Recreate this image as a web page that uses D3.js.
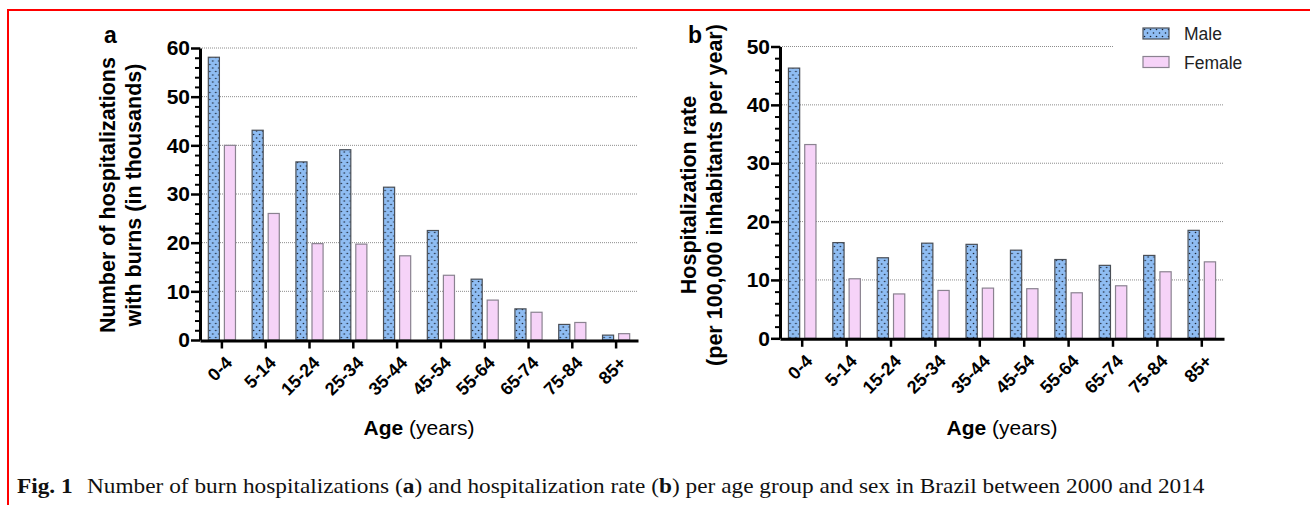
<!DOCTYPE html>
<html>
<head>
<meta charset="utf-8">
<script src="https://cdn.jsdelivr.net/npm/d3@7"></script>
<style>
  body { margin: 0; background: #fff; }
  svg { display: block; font-family: "Liberation Sans", Arial, sans-serif; }
</style>
</head>
<body>
<svg id="chart" width="1310" height="505"></svg>
<script>
// age groups + values
var ageGroups = ["0-4", "5-14", "15-24", "25-34", "35-44", "45-54", "55-64", "65-74", "75-84", "85+"];
var sexes = ["Male", "Female"];

// panel a: hospitalizations (thousands)
var countMale   = [58.1, 43.1, 36.6, 39.1, 31.4, 22.5, 12.5, 6.4, 3.2, 1.0];
var countFemale = [40.0, 26.0, 19.8, 19.7, 17.3, 13.3, 8.2, 5.7, 3.6, 1.3];

// panel b: rate per 100,000 inhabitants per year
var rateMale   = [46.3, 16.4, 13.8, 16.3, 16.1, 15.1, 13.5, 12.5, 14.2, 18.5];
var rateFemale = [33.2, 10.2, 7.6, 8.2, 8.6, 8.5, 7.8, 9.0, 11.4, 13.1];

var countTicks = [0, 10, 20, 30, 40, 50, 60];
var rateTicks = [0, 10, 20, 30, 40, 50];

var svg = d3.select("#chart");

// dotted fill for the male bars
var defs = svg.append("defs");
var pat = defs.append("pattern")
    .attr("id", "dots")
    .attr("patternUnits", "userSpaceOnUse")
    .attr("width", 6)
    .attr("height", 7);
pat.append("rect").attr("width", 6).attr("height", 7).attr("fill", "#8fbdf3");
pat.append("circle").attr("cx", 1.5).attr("cy", 1.5).attr("r", 0.8).attr("fill", "#1a2230");
pat.append("circle").attr("cx", 4.5).attr("cy", 5).attr("r", 0.8).attr("fill", "#1a2230");

var colors = { Male: "url(#dots)", Female: "#f6d3f8" };
var strokes = { Male: "#4a4f57", Female: "#8a8290" };

// red frame
svg.append("rect")
    .attr("x", 8).attr("y", 10)
    .attr("width", 1320).attr("height", 520)
    .attr("fill", "none")
    .attr("stroke", "#ff0000")
    .attr("stroke-width", 2);

function drawPanel(opts) {
    var g = svg.append("g");

    var x0 = d3.scaleBand()
        .domain(ageGroups)
        .range([opts.left, opts.right])
        .paddingInner(0.38)
        .paddingOuter(0.19);

    var x1 = d3.scaleBand()
        .domain(sexes)
        .range([0, x0.bandwidth()])
        .paddingInner(0.31);

    var y = d3.scaleLinear()
        .domain([0, opts.max])
        .range([opts.bottom, opts.top]);

    // dotted grid
    g.selectAll(".grid")
        .data(opts.ticks.filter(d => d > 0))
        .enter()
        .append("line")
            .attr("x1", opts.left)
            .attr("x2", d => (d === opts.max && opts.topGridEnd) ? opts.topGridEnd : opts.right)
            .attr("y1", d => y(d))
            .attr("y2", d => y(d))
            .attr("stroke", "#8c8c8c")
            .attr("stroke-width", 1)
            .attr("stroke-dasharray", "1,1");

    // bars
    var rows = ageGroups.map((a, i) => ({ age: a, Male: opts.male[i], Female: opts.female[i] }));
    var groups = g.selectAll(".grp")
        .data(rows)
        .enter()
        .append("g")
            .attr("transform", d => "translate(" + x0(d.age) + ",0)");

    groups.selectAll("rect")
        .data(d => sexes.map(s => ({ sex: s, value: d[s] })))
        .enter()
        .append("rect")
            .attr("x", d => x1(d.sex))
            .attr("width", x1.bandwidth())
            .attr("y", d => y(d.value))
            .attr("height", d => y(0) - y(d.value))
            .attr("fill", d => colors[d.sex])
            .attr("stroke", d => strokes[d.sex])
            .attr("stroke-width", 1.2);

    // minor ticks every 2
    var minors = d3.range(0, opts.max + 0.1, 2).filter(v => v % 10 !== 0);
    var minorAxis = g.append("g")
        .attr("transform", "translate(" + opts.left + ",0)")
        .call(d3.axisLeft(y).tickValues(minors).tickSize(5).tickFormat(""));
    minorAxis.select(".domain").remove();
    minorAxis.selectAll("line").attr("stroke-width", 2);

    // y axis
    var yAxis = g.append("g")
        .attr("transform", "translate(" + opts.left + ",0)")
        .call(d3.axisLeft(y).tickValues(opts.ticks).tickSize(9).tickSizeOuter(0).tickPadding(1));
    yAxis.select(".domain").attr("stroke-width", 3);
    yAxis.selectAll(".tick line").attr("stroke-width", 2.5);
    yAxis.selectAll("text")
        .style("font-size", "21px")
        .style("font-weight", "bold")
        .style("font-family", "'Liberation Sans', Arial, sans-serif")
        .attr("fill", "#000");

    // x axis
    var xAxis = g.append("g")
        .attr("transform", "translate(0," + (opts.bottom + 0.5) + ")")
        .call(d3.axisBottom(x0).tickSize(8).tickSizeOuter(0));
    xAxis.select(".domain").attr("stroke-width", 3);
    xAxis.selectAll(".tick line").attr("stroke-width", 2.5);
    xAxis.selectAll("text")
        .style("font-size", "18px")
        .style("font-weight", "bold")
        .style("font-family", "'Liberation Sans', Arial, sans-serif")
        .attr("fill", "#000")
        .attr("text-anchor", "end")
        .attr("x", 7)
        .attr("y", 19)
        .attr("dy", "0.35em")
        .attr("transform", "rotate(-45, 7, 19)");

    // y title, two lines
    var yt = g.append("text")
        .attr("transform", "translate(" + opts.titleX + "," + opts.titleY + ") rotate(-90)")
        .attr("text-anchor", "middle")
        .style("font-size", "21.5px")
        .style("font-weight", "bold");
    yt.append("tspan").attr("x", 0).attr("dy", 0).text(opts.title[0]);
    yt.append("tspan").attr("x", 0).attr("dy", 25.5).text(opts.title[1]);

    // x title
    var xt = g.append("text")
        .attr("x", (opts.left + opts.right) / 2)
        .attr("y", 435)
        .attr("text-anchor", "middle")
        .style("font-size", "21px");
    xt.append("tspan").style("font-weight", "bold").text("Age");
    xt.append("tspan").text(" (years)");

    // panel letter
    g.append("text")
        .attr("x", opts.letterX)
        .attr("y", 43)
        .style("font-size", "23px")
        .style("font-weight", "bold")
        .text(opts.letter);
}

drawPanel({
    left: 200, right: 638, top: 48, bottom: 340,
    max: 60, ticks: countTicks,
    male: countMale, female: countFemale,
    title: ["Number of hospitalizations", "with burns (in thousands)"],
    titleX: 115, titleY: 195,
    letter: "a", letterX: 104
});

drawPanel({
    left: 780, right: 1224, top: 46.5, bottom: 338.3,
    max: 50, ticks: rateTicks, topGridEnd: 1113,
    male: rateMale, female: rateFemale,
    title: ["Hospitalization rate", "(per 100,000 inhabitants per year)"],
    titleX: 696, titleY: 195,
    letter: "b", letterX: 688
});

// legend
var legend = svg.append("g").attr("transform", "translate(1143,28)");
var items = legend.selectAll("g")
    .data(sexes)
    .enter()
    .append("g")
        .attr("transform", (d, i) => "translate(0," + (i * 28.5) + ")");
items.append("rect")
    .attr("width", 26)
    .attr("height", 11)
    .attr("fill", d => colors[d])
    .attr("stroke", d => strokes[d])
    .attr("stroke-width", 1.2);
items.append("text")
    .attr("x", 41)
    .attr("y", 12)
    .style("font-size", "17.5px")
    .attr("fill", "#222")
    .text(d => d);

// caption, stretched a little to the width it has in the figure
var cap = svg.append("text")
    .attr("x", 0)
    .attr("y", 493)
    .style("font-family", "'Liberation Serif', 'Times New Roman', serif")
    .style("font-size", "22px")
    .attr("fill", "#111");
cap.append("tspan").style("font-weight", "bold").text("Fig. 1");
cap.append("tspan").attr("dx", 8).text(" Number of burn hospitalizations (");
cap.append("tspan").style("font-weight", "bold").text("a");
cap.append("tspan").text(") and hospitalization rate (");
cap.append("tspan").style("font-weight", "bold").text("b");
cap.append("tspan").text(") per age group and sex in Brazil between 2000 and 2014");
var capW = cap.node().getBBox().width;
cap.attr("transform", "translate(17,0) scale(" + (1188 / capW) + ",1)");
</script>
</body>
</html>
